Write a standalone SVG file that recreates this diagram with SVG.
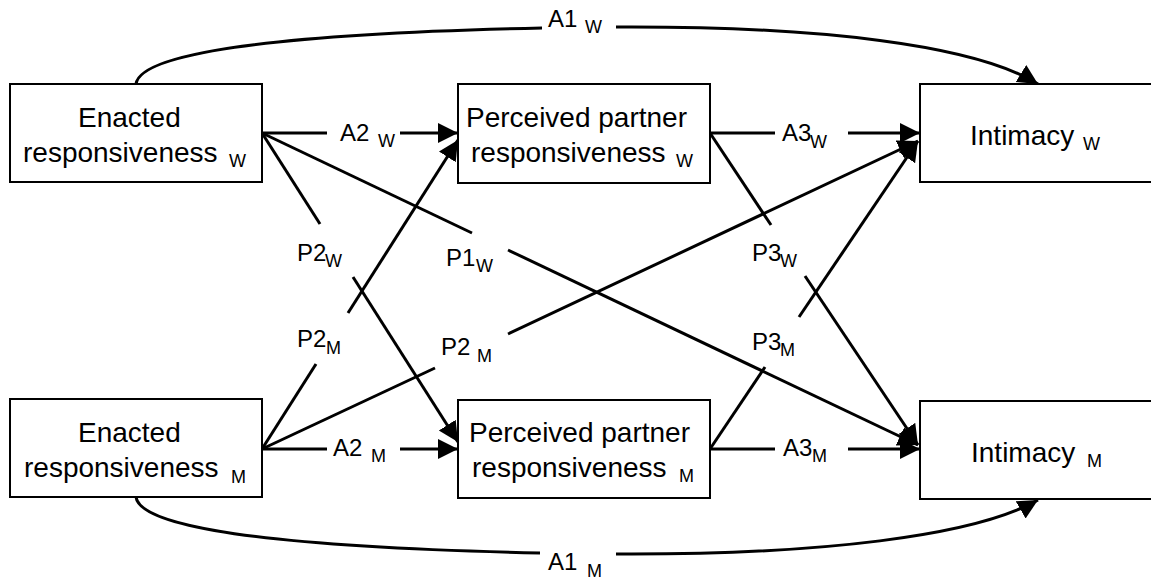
<svg xmlns="http://www.w3.org/2000/svg" width="1151" height="581" viewBox="0 0 1151 581">
<style>
.box{fill:#fff;stroke:#000;stroke-width:2}
text{font-family:"Liberation Sans",Arial,sans-serif;fill:#000}
.t{font-size:28px}
.lab{font-size:24px}
.sub{font-size:18px}
.c{fill:none;stroke:#000;stroke-width:3}
</style>
<defs>
<marker id="ah" markerUnits="userSpaceOnUse" markerWidth="22" markerHeight="22" refX="20" refY="10" orient="auto"><path d="M0,0 L20,10 L0,20 Z" fill="#000"/></marker>
</defs>
<rect width="1151" height="581" fill="#fff"/>
<g id="connectors">
<path class="c" d="M136,84 C140,55 260,34 542,28"/>
<path class="c" d="M616,27 C820,26 975,45 1038,84" marker-end="url(#ah)"/>
<path class="c" d="M136,497 C140,526 260,547 540,553"/>
<path class="c" d="M616,554 C820,555 975,536 1038,500" marker-end="url(#ah)"/>
<path class="c" d="M262,133 H327"/>
<path class="c" d="M400,133 H458" marker-end="url(#ah)"/>
<path class="c" d="M262,449 H327"/>
<path class="c" d="M400,449 H458" marker-end="url(#ah)"/>
<path class="c" d="M710,133 H775"/>
<path class="c" d="M848,133 H920" marker-end="url(#ah)"/>
<path class="c" d="M710,449 H775"/>
<path class="c" d="M848,449 H920" marker-end="url(#ah)"/>
<path class="c" d="M262,133 L320,224"/>
<path class="c" d="M353,277 L458,442" marker-end="url(#ah)"/>
<path class="c" d="M262,449 L316,364"/>
<path class="c" d="M348,313 L458,140" marker-end="url(#ah)"/>
<path class="c" d="M262,133 L472,233"/>
<path class="c" d="M508,250 L918,445" marker-end="url(#ah)"/>
<path class="c" d="M262,449 L435,368"/>
<path class="c" d="M508,334 L918,141" marker-end="url(#ah)"/>
<path class="c" d="M710,133 L771,225"/>
<path class="c" d="M805,276 L918,445" marker-end="url(#ah)"/>
<path class="c" d="M710,449 L765,367"/>
<path class="c" d="M799,317 L918,141" marker-end="url(#ah)"/>
<text class="lab" x="548" y="27">A1</text><text class="sub" x="585" y="33">W</text>
<text class="lab" x="548" y="570">A1</text><text class="sub" x="587" y="577">M</text>
<text class="lab" x="340" y="141">A2</text><text class="sub" x="378" y="147">W</text>
<text class="lab" x="333" y="456">A2</text><text class="sub" x="371" y="462">M</text>
<text class="lab" x="782" y="141">A3</text><text class="sub" x="810" y="148">W</text>
<text class="lab" x="783" y="456">A3</text><text class="sub" x="812" y="462">M</text>
<text class="lab" x="297" y="261">P2</text><text class="sub" x="325" y="267">W</text>
<text class="lab" x="297" y="347">P2</text><text class="sub" x="326" y="354">M</text>
<text class="lab" x="446" y="266">P1</text><text class="sub" x="476" y="272">W</text>
<text class="lab" x="441" y="355">P2</text><text class="sub" x="477" y="362">M</text>
<text class="lab" x="752" y="261">P3</text><text class="sub" x="780" y="267">W</text>
<text class="lab" x="752" y="350">P3</text><text class="sub" x="780" y="356">M</text>
</g>
<g id="enacted-w">
<rect class="box" x="10" y="84" width="252" height="98"/>
<text class="t" x="78" y="127">Enacted</text>
<text class="t" x="23" y="162">responsiveness</text><text class="sub" x="229" y="167">W</text>
</g>
<g id="perceived-w">
<rect class="box" x="458" y="84" width="252" height="99"/>
<text class="t" x="466" y="127">Perceived partner</text>
<text class="t" x="471" y="162">responsiveness</text><text class="sub" x="676" y="167">W</text>
</g>
<g id="intimacy-w">
<rect class="box" x="920" y="84" width="240" height="98"/>
<text class="t" x="970" y="145">Intimacy</text><text class="sub" x="1083" y="150">W</text>
</g>
<g id="enacted-m">
<rect class="box" x="10" y="399" width="252" height="98"/>
<text class="t" x="78" y="442">Enacted</text>
<text class="t" x="24" y="477">responsiveness</text><text class="sub" x="231" y="483">M</text>
</g>
<g id="perceived-m">
<rect class="box" x="458" y="400" width="252" height="98"/>
<text class="t" x="469" y="442">Perceived partner</text>
<text class="t" x="472" y="477">responsiveness</text><text class="sub" x="679" y="482">M</text>
</g>
<g id="intimacy-m">
<rect class="box" x="920" y="401" width="240" height="98"/>
<text class="t" x="971" y="462">Intimacy</text><text class="sub" x="1087" y="467">M</text>
</g>
</svg>
